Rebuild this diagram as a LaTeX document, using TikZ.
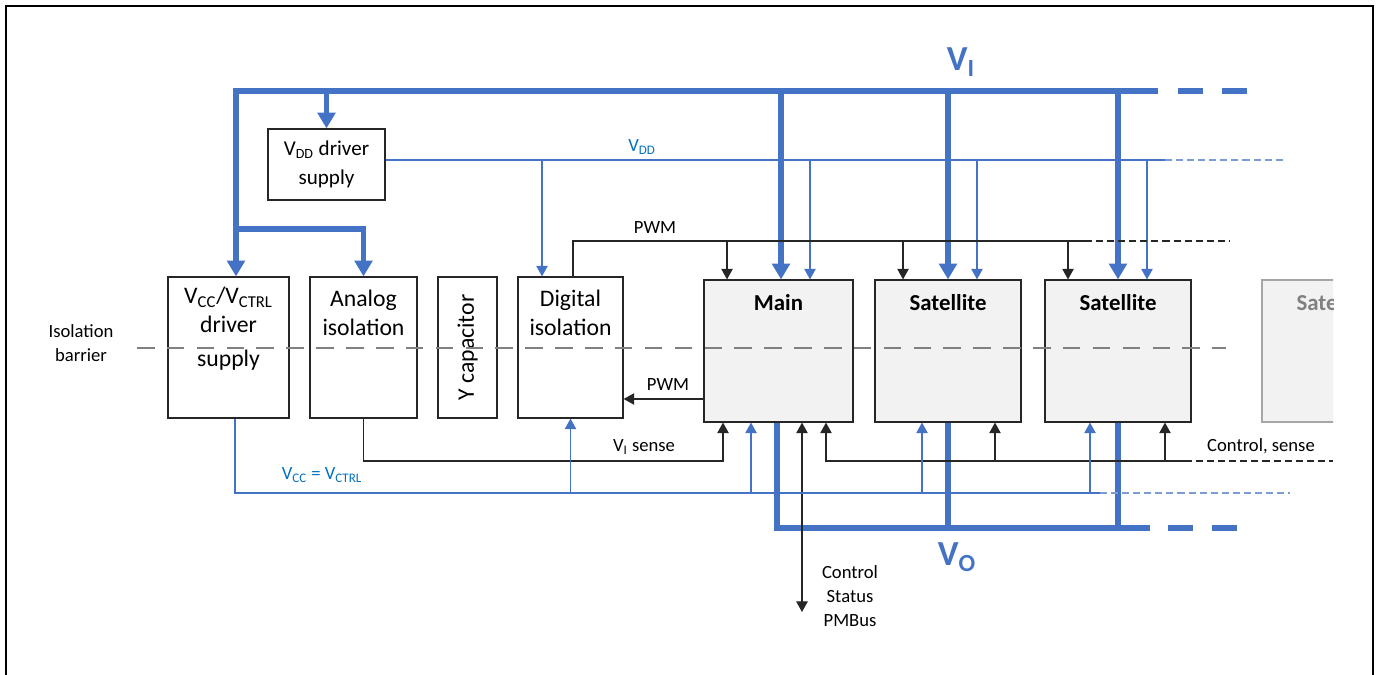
\documentclass[tikz,border=0pt]{standalone}
\usepackage{fontspec}
\setmainfont{Carlito}
\usepackage{tikz}
\usetikzlibrary{arrows.meta,positioning}
\definecolor{tiblue}{RGB}{68,114,196}
\definecolor{lblblue}{RGB}{0,112,192}
\definecolor{boxgray}{RGB}{242,242,242}
\newcommand{\sbs}[1]{\textsubscript{#1}}

\begin{document}
\begin{tikzpicture}[x=0.02cm,y=-0.02cm]
    \tikzstyle{box}=[draw=black!85, line width=0.7pt, fill=white, inner sep=0pt, shape=rectangle]
    \tikzstyle{unit}=[box, fill=boxgray]
    \tikzstyle{point}=[inner sep=0pt, minimum size=0pt, draw=none]
    \tikzstyle{tag}=[fill=none, draw=none, inner sep=0pt, align=center, font=\fontsize{10.6}{13.5}\selectfont]
    \tikzstyle{box text}=[inner sep=0pt, align=center, font=\fontsize{13.5}{16.5}\selectfont]
    \tikzstyle{unit text}=[inner sep=0pt, font=\fontsize{13}{15}\selectfont\bfseries]
    \tikzstyle{rail}=[inner sep=0pt, text=tiblue, font=\fontsize{20}{24}\selectfont\bfseries]
    \tikzstyle{bus}=[draw=tiblue, line width=3.2pt]
    \tikzstyle{bus arrow}=[bus, -{Triangle[width=10pt,length=9pt]}]
    \tikzstyle{signal}=[draw=black!85, line width=0.6pt]
    \tikzstyle{signal arrow}=[signal, -{Triangle[width=6.5pt,length=6pt]}]
    \tikzstyle{supply}=[draw=tiblue, line width=0.6pt]
    \tikzstyle{supply arrow}=[supply, -{Triangle[width=6.5pt,length=6pt]}]
    \tikzstyle{more}=[dash pattern=on 4pt off 2.3pt]
    \tikzstyle{barrier}=[draw=black!50, line width=0.9pt, dash pattern=on 10pt off 7pt]

    \useasboundingbox (0,0) rectangle (1377,675);
    \draw [line width=1.1pt] (6,675) -- (6,6) -- (1373,6) -- (1373,675);

    % blocks
    \node [style=box, minimum width=2.34cm, minimum height=1.42cm, align=center, font=\fontsize{12}{16.5}\selectfont] (1) at (326.5,164.5) {V\sbs{DD} driver\\supply};
    \node [style=box, minimum width=2.42cm, minimum height=2.82cm] (2) at (228.5,347.5) {};
    \node [style=box, minimum width=2.14cm, minimum height=2.82cm] (3) at (363.5,347.5) {};
    \node [style=box, minimum width=1.18cm, minimum height=2.82cm] (4) at (467.5,347.5) {};
    \node [style=box, minimum width=2.10cm, minimum height=2.82cm] (5) at (570.5,347.5) {};
    \node [style=unit, minimum width=2.98cm, minimum height=2.84cm] (6) at (778.5,351) {};
    \node [style=unit, minimum width=2.92cm, minimum height=2.84cm] (7) at (948,351) {};
    \node [style=unit, minimum width=2.92cm, minimum height=2.84cm] (8) at (1118,351) {};
    \begin{scope}
        \clip (1250,270) rectangle (1333,430);
        \node [style=unit, draw=black!35, minimum width=2.92cm, minimum height=2.84cm] (9) at (1335,351) {};
        \node [style=unit text, text=black!50, below=0.3cm of 9.north] (48) {Satellite};
    \end{scope}

    % rails and line ends
    \node [style=point] (10) at (236,91) {};
    \node [style=point] (11) at (1158,91) {};
    \node [style=point] (12) at (236,229) {};
    \node [style=point] (13) at (1165,160) {};
    \node [style=point] (14) at (1285,160) {};
    \node [style=point] (15) at (1085,241) {};
    \node [style=point] (16) at (1230,241) {};
    \node [style=point] (17) at (1185,461) {};
    \node [style=point] (18) at (1333,461) {};
    \node [style=point] (19) at (1100,493) {};
    \node [style=point] (20) at (1290,493) {};
    \node [style=point] (22) at (1150,528) {};
    \node [style=point] (23) at (802,612) {};
    \node [style=point] (24) at (137,348) {};
    \node [style=point] (25) at (1226,348) {};

    % V_I bus
    \draw [style=bus arrow] (11.center) to (10.center) to (10.center |- 2.north);
    \foreach \x in {1178,1222}
        \draw [style=bus] (\x,91) to ++(25,0);
    \draw [style=bus arrow] (12.center) to (12.center -| 3.north) to (3.north);
    \draw [style=bus arrow] (1.north |- 10.center) to (1.north);
    \foreach \n/\dx in {6/0.05, 7/0, 8/0}
        \draw [style=bus arrow] ([xshift=\dx cm]\n.north |- 10.center) to ([xshift=\dx cm]\n.north);

    % V_O bus
    \draw [style=bus] ([xshift=-0.03cm]6.south) to ([xshift=-0.03cm]6.south |- 22.center) to (22.center);
    \foreach \n in {7,8}
        \draw [style=bus] (\n.south) to (\n.south |- 22.center);
    \foreach \x in {1168,1212}
        \draw [style=bus] (\x,528) to ++(25,0);

    % V_DD
    \draw [style=supply] (1.east |- 13.center) to (13.center);
    \draw [style=supply, draw=tiblue!70, style=more] (13.center) to (14.center);
    \foreach \n/\dx in {5/-0.57, 6/0.63, 7/0.58, 8/0.58}
        \draw [style=supply arrow] ([xshift=\dx cm]\n.north |- 13.center) to ([xshift=\dx cm]\n.north);

    % PWM
    \draw [style=signal] ([xshift=0.05cm]5.north) to ([xshift=0.05cm]5.north |- 15.center) to (15.center);
    \draw [style=signal, style=more] (15.center) to (16.center);
    \foreach \n/\dx in {6/-1.03, 7/-0.9, 8/-1.0}
        \draw [style=signal arrow] ([xshift=\dx cm]\n.north |- 15.center) to ([xshift=\dx cm]\n.north);
    \draw [style=signal arrow] ([yshift=-0.96cm]6.west) to ([yshift=-0.96cm]6.west -| 5.east);

    % sense and control
    \draw [style=signal arrow] (3.south) to (3.south |- 17.center) to ([xshift=-1.11cm]6.south |- 17.center) to ([xshift=-1.11cm]6.south);
    \draw [style=signal, {Triangle[width=6.5pt,length=6pt]}-] ([xshift=0.95cm]6.south) to ([xshift=0.95cm]6.south |- 17.center) to (17.center);
    \draw [style=signal, style=more] (17.center) to (18.center);
    \foreach \n in {7,8}
        \draw [style=signal arrow] ([xshift=0.94cm]\n.south |- 17.center) to ([xshift=0.94cm]\n.south);
    \draw [style=signal, {Triangle[width=6.5pt,length=6pt]}-{Triangle[width=6.5pt,length=6pt]}] ([xshift=0.47cm]6.south) to ([xshift=0.47cm]6.south |- 23.center);

    % V_CC = V_CTRL
    \draw [style=supply] ([xshift=0.13cm]2.south) to ([xshift=0.13cm]2.south |- 19.center) to (19.center);
    \draw [style=supply, draw=tiblue!70, style=more] (19.center) to (20.center);
    \foreach \n/\dx in {5/0, 6/-0.55, 7/-0.52, 8/-0.56}
        \draw [style=supply arrow] ([xshift=\dx cm]\n.south |- 19.center) to ([xshift=\dx cm]\n.south);

    % block texts
    \node [style=box text, below=0.2cm of 2.north] (40) {V\sbs{CC}/V\sbs{CTRL}\\driver\\[3pt]supply};
    \node [style=box text, below=0.27cm of 3.north] (41) {Analog\\isolation};
    \node [style=box text, rotate=90] (42) at (4.center) {Y capacitor};
    \node [style=box text, below=0.27cm of 5.north] (43) {Digital\\isolation};
    \node [style=unit text, below=0.3cm of 6.north] (44) {Main};
    \node [style=unit text, below=0.3cm of 7.north] (45) {Satellite};
    \node [style=unit text, below=0.3cm of 8.north] (46) {Satellite};

    % isolation barrier
    \draw [style=barrier] (24.center) to (25.center);

    % labels
    \node [style=rail] (30) at (961,62) {V\sbs{I}};
    \node [style=rail] (31) at (957,557) {V\sbs{O}};
    \node [style=tag, text=lblblue] (32) at (642,147) {V\sbs{DD}};
    \node [style=tag] (33) at (655,228) {PWM};
    \node [style=tag] (34) at (668,385) {PWM};
    \node [style=tag] (35) at (644,447) {V\sbs{I} sense};
    \node [style=tag, text=lblblue] (36) at (322,475) {V\sbs{CC} = V\sbs{CTRL}};
    \node [style=tag] (37) at (1261,446) {Control, sense};
    \node [style=tag] (38) at (850,596) {Control\\Status\\PMBus};
    \node [style=tag] (39) at (81,343) {Isolation\\barrier};
\end{tikzpicture}
\end{document}
